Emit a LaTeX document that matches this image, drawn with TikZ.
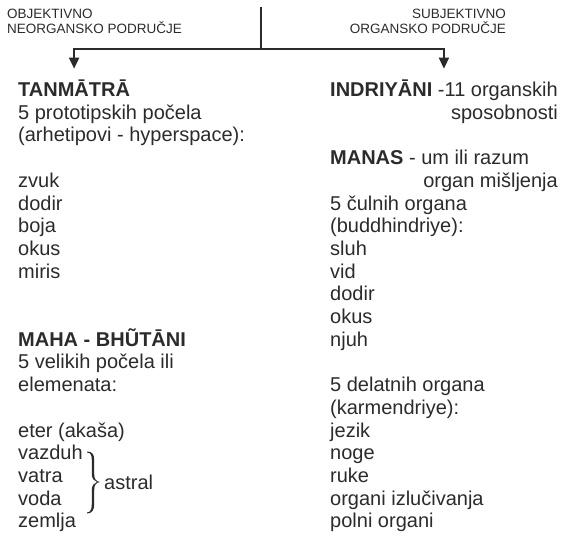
\documentclass[tikz,border=0pt]{standalone}
\usepackage{fontspec}
\setmainfont{Liberation Sans}
\usetikzlibrary{arrows.meta,positioning}
\definecolor{ink}{HTML}{2B2B2B}

\begin{document}
\begin{tikzpicture}[x=1pt,y=-1pt]
        % styles
        \tikzstyle{item}=[anchor=base west, inner sep=0pt, text=ink, font=\fontsize{20}{22.7}\selectfont]
        \tikzstyle{itemr}=[item, anchor=base east]
        \tikzstyle{heading}=[item, font=\fontsize{20}{22.7}\selectfont\bfseries]
        \tikzstyle{region}=[anchor=base west, inner sep=0pt, text=ink, font=\fontsize{13.5}{14}\selectfont]
        \tikzstyle{trunk}=[draw=ink, line width=2pt]
        \tikzstyle{branch}=[trunk, -{Triangle[length=11pt,width=10pt]}, shorten >=11pt]

        \useasboundingbox (0,0) rectangle (566,538);

        % regions
        \node[region] (objektivno) at (7,19) {OBJEKTIVNO};
        \node[region] (neorgansko) at (7,33) {NEORGANSKO PODRUČJE};
        \node[region, anchor=base east] (subjektivno) at (506,19) {SUBJEKTIVNO};
        \node[region, anchor=base east] (organsko) at (506,33) {ORGANSKO PODRUČJE};

        % left column
        \node[heading] (tanmatra) at (18,96.5) {TANMĀTRĀ};
        \node[item] (prototip) at (18,119.2) {5 prototipskih počela};
        \node[item] (arhetip) at (18,141.9) {(arhetipovi - hyperspace):};
        \node[item] (zvuk) at (18,187.3) {zvuk};
        \node[item] (dodirL) at (18,210) {dodir};
        \node[item] (boja) at (18,232.7) {boja};
        \node[item] (okusL) at (18,255.4) {okus};
        \node[item] (miris) at (18,278.1) {miris};

        \node[heading] (bhutani) at (18,346.2) {MAHA - BHŨTĀNI};
        \node[item] (veliki) at (18,368.9) {5 velikih počela ili};
        \node[item] (elementi) at (18,391.6) {elemenata:};
        \node[item] (eter) at (18,437) {eter (akaša)};
        \node[item] (vazduh) at (18,459.7) {vazduh};
        \node[item] (vatra) at (18,482.4) {vatra};
        \node[item] (voda) at (18,505.1) {voda};
        \node[item] (zemlja) at (18,527.8) {zemlja};

        % astral brace
        \fill[ink] (87,451.5) .. controls (92,451.5) and (94.2,454) .. (94.2,460) -- (94.2,474)
            .. controls (94.2,479) and (96,481.5) .. (100,482)
            .. controls (96,482.5) and (94.2,485) .. (94.2,490) -- (94.2,504)
            .. controls (94.2,510) and (92,513.5) .. (87,513.5) -- (87,512.5)
            .. controls (90.5,512.5) and (91.8,509) .. (91.8,504) -- (91.8,490)
            .. controls (91.8,485.5) and (94,483) .. (97,482)
            .. controls (94,481) and (91.8,478.5) .. (91.8,474) -- (91.8,460)
            .. controls (91.8,455) and (90.5,452.5) .. (87,452.5) -- cycle;
        \coordinate (bracetip) at (100,482);
        \node[item, right=4pt of bracetip] (astral) {astral};

        % right column
        \node[item] (indriyani) at (330,96.5) {\textbf{INDRIYĀNI} -11 organskih};
        \node[itemr] (sposobnosti) at (558,119.2) {sposobnosti};
        \node[item] (manas) at (330,164.6) {\textbf{MANAS} - um ili razum};
        \node[itemr] (misljenje) at (558,187.3) {organ mišljenja};
        \node[item] (culni) at (330,210) {5 čulnih organa};
        \node[item] (buddhi) at (330,232.7) {(buddhindriye):};
        \node[item] (sluh) at (330,255.4) {sluh};
        \node[item] (vid) at (330,278.1) {vid};
        \node[item] (dodirR) at (330,300.8) {dodir};
        \node[item] (okusR) at (330,323.5) {okus};
        \node[item] (njuh) at (330,346.2) {njuh};
        \node[item] (delatni) at (330,391.6) {5 delatnih organa};
        \node[item] (karmen) at (330,414.3) {(karmendriye):};
        \node[item] (jezik) at (330,437) {jezik};
        \node[item] (noge) at (330,459.7) {noge};
        \node[item] (ruke) at (330,482.4) {ruke};
        \node[item] (izluc) at (330,505.1) {organi izlučivanja};
        \node[item] (polni) at (330,527.8) {polni organi};

        % connectors
        \coordinate (root) at (261,7);
        \coordinate (fork) at (261,49);
        \draw[trunk] (root) -- (fork);
        \draw[branch] (fork) -| (tanmatra.north);
        \draw[branch] (fork) -| (indriyani.north);
    \end{tikzpicture}
\end{document}
